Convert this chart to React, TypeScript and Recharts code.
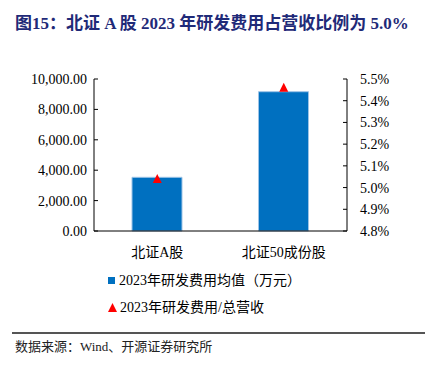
import React from "react"
import { Bar, ComposedChart, Line, XAxis, YAxis } from "recharts"

const categories = ["北证A股", "北证50成份股"]
const avgRdCost = [3533, 9164] // 万元
const rdRatio = [5.04, 5.46] // %
const leftTicks = [0, 2000, 4000, 6000, 8000, 10000]
const rightTicks = [4.8, 4.9, 5.0, 5.1, 5.2, 5.3, 5.4, 5.5]

const barName = "2023年研发费用均值（万元）"
const lineName = "2023年研发费用/总营收"

const chartData = categories.map((name, i) => ({
  name,
  avg: avgRdCost[i],
  ratio: rdRatio[i],
}))

const FONT = "'Liberation Serif', 'Noto Sans CJK SC', serif"
const BLUE = "#0070c0"
const RED = "#ff0000"

const Triangle = (props: any) => {
  const { cx, cy } = props
  if (cx == null || cy == null) return null
  return (
    <polygon
      points={`${cx},${cy - 5} ${cx - 4.5},${cy + 4} ${cx + 4.5},${cy + 4}`}
      fill={RED}
    />
  )
}

const LegendBox = () => (
  <div style={{ fontFamily: FONT, fontSize: 14, color: "#000", lineHeight: "27px" }}>
    <div style={{ display: "flex", alignItems: "center" }}>
      <span style={{ display: "inline-block", width: 7, height: 7, background: BLUE, marginRight: 4 }} />
      <span>{barName}</span>
    </div>
    <div style={{ display: "flex", alignItems: "center" }}>
      <svg width={9} height={9} style={{ marginRight: 3 }}>
        <polygon points="4.5,0 0,9 9,9" fill={RED} />
      </svg>
      <span>{lineName}</span>
    </div>
  </div>
)

export default function App() {
  return (
    <div style={{ position: "absolute", left: 0, top: 0, width: 432, height: 366, background: "#fff", fontFamily: FONT }}>
      <div
        style={{
          position: "absolute",
          left: 15,
          top: 9,
          fontSize: 17,
          fontWeight: "bold",
          color: "#1f2a78",
          whiteSpace: "nowrap",
        }}
      >
        图15：北证 A 股 2023 年研发费用占营收比例为 5.0%
      </div>

      <div style={{ position: "absolute", left: 0, top: 0 }}>
        <ComposedChart
          width={432}
          height={330}
          data={chartData}
          margin={{ top: 79, right: 0, left: 0, bottom: 69 }}
          barCategoryGap={0}
        >
          <XAxis
            dataKey="name"
            stroke="#000"
            tickLine={false}
            tick={{ fill: "#000", fontSize: 14, fontFamily: FONT }}
            tickMargin={10}
            height={30}
          />
          <YAxis
            yAxisId="left"
            orientation="left"
            width={94}
            domain={[0, 10000]}
            ticks={leftTicks}
            tickFormatter={(v: number) =>
              v.toLocaleString("en-US", { minimumFractionDigits: 2, maximumFractionDigits: 2 })
            }
            stroke="#000"
            tickSize={-4}
            tickMargin={11}
            tick={{ fill: "#000", fontSize: 14, fontFamily: FONT }}
            interval={0}
          />
          <YAxis
            yAxisId="right"
            orientation="right"
            width={85}
            domain={[4.8, 5.5]}
            ticks={rightTicks}
            tickFormatter={(v: number) => `${v.toFixed(1)}%`}
            stroke="#000"
            tickSize={-4}
            tickMargin={17}
            tick={{ fill: "#000", fontSize: 14, fontFamily: FONT, textAnchor: "start" }}
            interval={0}
          />
          <Bar
            yAxisId="left"
            dataKey="avg"
            name={barName}
            fill={BLUE}
            stroke="#9dc3e6"
            strokeWidth={1}
            barSize={50}
            isAnimationActive={false}
          />
          <Line
            yAxisId="right"
            dataKey="ratio"
            name={lineName}
            stroke="none"
            dot={<Triangle />}
            activeDot={false}
            isAnimationActive={false}
          />
        </ComposedChart>
      </div>

      <div style={{ position: "absolute", left: 108, top: 267 }}>
        <LegendBox />
      </div>

      <div
        style={{
          position: "absolute",
          left: 12,
          top: 332,
          width: 413,
          height: 2,
          background: "#555",
        }}
      />
      <div
        style={{
          position: "absolute",
          left: 15,
          top: 336,
          fontSize: 13,
          color: "#222",
          whiteSpace: "nowrap",
        }}
      >
        数据来源：Wind、开源证券研究所
      </div>
    </div>
  )
}
